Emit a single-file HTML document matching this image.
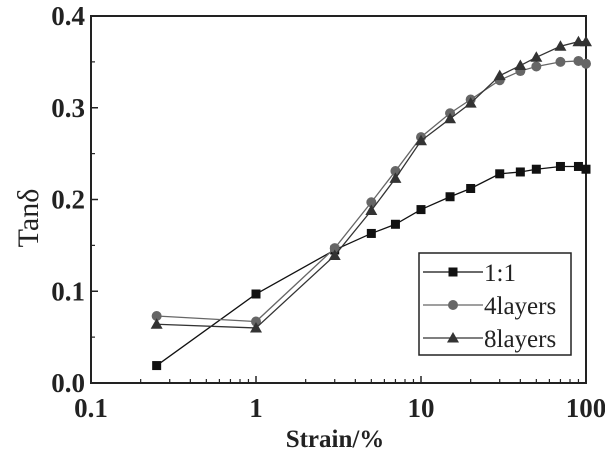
<!DOCTYPE html>
<html><head><meta charset="utf-8"><style>
body{margin:0;background:#fff}
svg{display:block;font-family:"Liberation Serif","DejaVu Serif",serif}
</style></head><body>
<svg id="c" width="605" height="462" viewBox="0 0 605 462"></svg>
<script>
const strain=[0.25,1,3,5,7,10,15,20,30,40,50,70,90,100];
const s11=[0.019,0.097,0.145,0.163,0.173,0.189,0.203,0.212,0.228,0.230,0.233,0.236,0.236,0.233];
const s4=[0.073,0.067,0.147,0.197,0.231,0.268,0.294,0.309,0.330,0.340,0.345,0.350,0.351,0.348];
const s8=[0.064,0.060,0.139,0.188,0.223,0.264,0.288,0.305,0.335,0.346,0.355,0.367,0.372,0.372];
const yTicks=[0,0.1,0.2,0.3,0.4];
const yTickLabels=["0.0","0.1","0.2","0.3","0.4"];
const xTicks=[0.1,1,10,100];
const xTickLabels=["0.1","1","10","100"];
const seriesNames=["1:1","4layers","8layers"];

const L=91,R=586,T=16,B=383;
const X=v=>L+(Math.log10(v)+1)/3*(R-L);
const Y=v=>B-v/0.4*(B-T);
const NS="http://www.w3.org/2000/svg";
const svg=document.getElementById('c');
function mk(tag,attrs,parent){const e=document.createElementNS(NS,tag);for(const k in attrs)e.setAttribute(k,attrs[k]);(parent||svg).appendChild(e);return e;}

const frame=mk('rect',{x:L,y:T,width:R-L,height:B-T,fill:'none',stroke:'#222','stroke-width':2});



yTicks.forEach((v,i)=>{
  const t=mk('line',{x1:L,x2:L+7,y1:Y(v),y2:Y(v),stroke:'#222','stroke-width':1.5});
  
  
  const tx=mk('text',{x:L-6,y:Y(v)+9,'text-anchor':'end','font-size':27,'font-weight':'bold',fill:'#222'});
  tx.textContent=yTickLabels[i];
  
  
  if(i<yTicks.length-1){
    const m=mk('line',{x1:L,x2:L+4,y1:Y(v+0.05),y2:Y(v+0.05),stroke:'#222','stroke-width':1.2});
    
    
  }
});
xTicks.forEach((v,i)=>{
  const t=mk('line',{x1:X(v),x2:X(v),y1:B,y2:B-7,stroke:'#222','stroke-width':1.5});
  
  
  const tx=mk('text',{x:X(v),y:B+34,'text-anchor':'middle','font-size':27,'font-weight':'bold',fill:'#222'});
  tx.textContent=xTickLabels[i];
  
  
  if(i<xTicks.length-1){
    for(let k=2;k<=9;k++){
      const m=mk('line',{x1:X(v*k),x2:X(v*k),y1:B,y2:B-4,stroke:'#222','stroke-width':1.2});
      
      
    }
  }
});
const xt=mk('text',{x:335,y:447,'text-anchor':'middle','font-size':25,'font-weight':'bold',fill:'#222'});
xt.textContent="Strain/%";


const yt=mk('text',{x:0,y:0,'text-anchor':'middle','font-size':30,fill:'#222',transform:'translate(38,218) rotate(-90)'});
yt.textContent="Tanδ";



function marker(type,x,y,color,g){
  let e;
  if(type==='sq') e=mk('rect',{x:x-4.5,y:y-4.5,width:9,height:9,fill:color},g);
  else if(type==='ci') e=mk('circle',{cx:x,cy:y,r:5,fill:color},g);
  else e=mk('polygon',{points:`${x},${y-6} ${x+6},${y+4.5} ${x-6},${y+4.5}`,fill:color},g);
  return e;
}
const series=[[s11,'sq','#111','series-1-1'],[s4,'ci','#666','series-4layers'],[s8,'tr','#333','series-8layers']];
series.forEach(([vals,m,col,name])=>{
  const g=mk('g',{});
  
  
  const pl=mk('polyline',{points:strain.map((s,i)=>X(s)+','+Y(vals[i])).join(' '),fill:'none',stroke:col,'stroke-width':1.3},g);
  
  
  strain.forEach((s,i)=>{
    const e=marker(m,X(s),Y(vals[i]),col,g);
    
    
  });
});
const lg=mk('g',{});


const lb=mk('rect',{x:419,y:253,width:152,height:102,fill:'#fff',stroke:'#222','stroke-width':1.5},lg);


series.forEach(([v,m,col],i)=>{
  const y=272+i*33;
  const ln=mk('line',{x1:423,x2:483,y1:y,y2:y,stroke:col,'stroke-width':1.3},lg);
  
  
  const mm=marker(m,453,y,col,lg);
  
  
  const t=mk('text',{x:484,y:y+9,'font-size':25,fill:'#222'},lg);
  t.textContent=seriesNames[i];
  
  
});
</script>
</body></html>
